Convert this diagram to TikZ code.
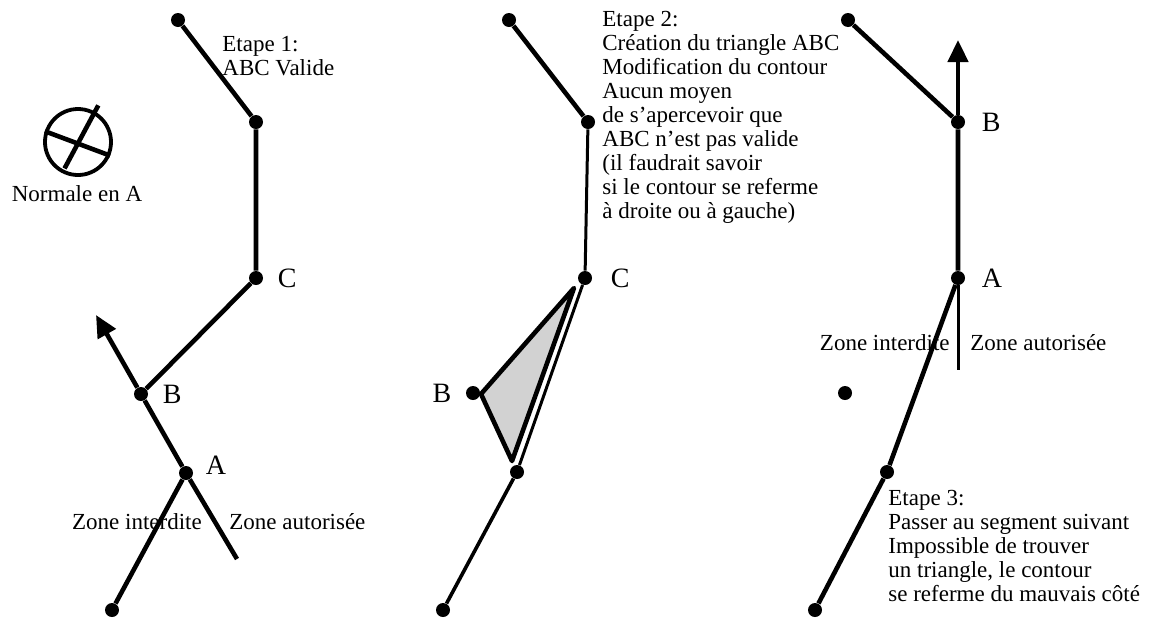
\documentclass[tikz,border=0pt]{standalone}
\usepackage{fontspec}
\setmainfont{Liberation Serif}
\usetikzlibrary{arrows.meta, positioning, calc}
\tikzset{
    vertex/.style = {circle, fill=black, inner sep=0pt, minimum size=7pt},
    seg/.style = {line width=2.3pt, line join=round},
    thinseg/.style = {line width=1.5pt},
    normalarrow/.style = {line width=2.3pt, -{Triangle[length=11pt, width=10pt]}},
    letter/.style = {font=\fontsize{14}{16}\selectfont, inner sep=1pt},
    note/.style = {font=\fontsize{11.5}{12}\selectfont, align=left, inner sep=0pt}
}
\begin{document}
\begin{tikzpicture}[x=0.5pt, y=-0.5pt]
\useasboundingbox (0,0) rectangle (1162,622);

% --- ETAPE 1 ---
\node (t1) [vertex] at (178,20) {};
\node (u1) [vertex] at (256,122) {};
\node (c1) [vertex] at (256,278) {};
\node (b1) [vertex] at (141,394) {};
\node (a1) [vertex] at (186,473) {};
\node (d1) [vertex] at (112,610) {};
\coordinate (tip1) at (96,315);
\coordinate (end1) at (237,559);

\node (lc1) [letter, right=6pt of c1] {C};
\node (lb1) [letter, right=6pt of b1] {B};
\node (la1) [letter, right=5pt of a1, yshift=4pt] {A};
\node (step1) [note, anchor=north west] at (222,36) {Etape 1:\\ABC Valide};
\node (zi1) [note] at (137,522) {Zone interdite};
\node (za1) [note, anchor=west] at (229,522) {Zone autorisée};

% normale en A
\node (normale) [circle, draw, line width=1.9pt, minimum size=33pt] at (78,142) {};
\draw [seg] (normale.162) -- (normale.-23);
\draw [seg] ($(normale.center)!1.2!(normale.61)$) -- ($(normale.center)!0.85!(normale.243)$);
\node (lnormale) [note] at (77,194) {Normale en A};

\draw [seg] (t1) -- (u1) -- (c1) -- (b1);
\draw [seg] (b1) -- (a1) -- (d1);
\draw [seg] (a1) -- (end1);
\draw [normalarrow] (b1) -- (tip1);

% --- ETAPE 2 ---
\node (t2) [vertex] at (509,20) {};
\node (u2) [vertex] at (588,122) {};
\node (c2) [vertex] at (585,278) {};
\node (b2) [vertex] at (473,393) {};
\node (l2) [vertex] at (517,472) {};
\node (d2) [vertex] at (443,610) {};

\node (lc2) [letter, right=8pt of c2] {C};
\node (lb2) [letter, left=6pt of b2] {B};
\node (step2) [note, anchor=north west] at (602,11) {Etape 2:\\Création du triangle ABC\\Modification du contour\\Aucun moyen\\de s'apercevoir que\\ABC n'est pas valide\\(il faudrait savoir\\si le contour se referme\\à droite ou à gauche)};

\draw [seg, fill=gray!35] (481,394) -- (574,288) -- (512,461) -- cycle;
\draw [seg] (t2) -- (u2);
\draw [thinseg] (u2) -- (c2) -- (l2);
\draw [line width=1.8pt] (l2) -- (d2);

% --- ETAPE 3 ---
\node (t3) [vertex] at (848,20) {};
\node (b3) [vertex] at (958,122) {};
\node (a3) [vertex] at (958,278) {};
\node (p3) [vertex] at (845,393) {};
\node (l3) [vertex] at (887,472) {};
\node (d3) [vertex] at (815,610) {};
\coordinate (tip3) at (958,40);
\coordinate (end3) at (958,370);

\node (lb3) [letter, right=7pt of b3] {B};
\node (la3) [letter, right=7pt of a3] {A};
\node (zi3) [note, anchor=east] at (950,343) {Zone interdite};
\node (za3) [note, anchor=west] at (970,343) {Zone autorisée};
\node (step3) [note, anchor=north west] at (888,490) {Etape 3:\\Passer au segment suivant\\Impossible de trouver\\un triangle, le contour\\se referme du mauvais côté};

\draw [seg] (t3) -- (b3) -- (a3) -- (l3) -- (d3);
\draw [thinseg] (a3) -- (end3);
\draw [normalarrow] (b3) -- (tip3);

\end{tikzpicture}
\end{document}
